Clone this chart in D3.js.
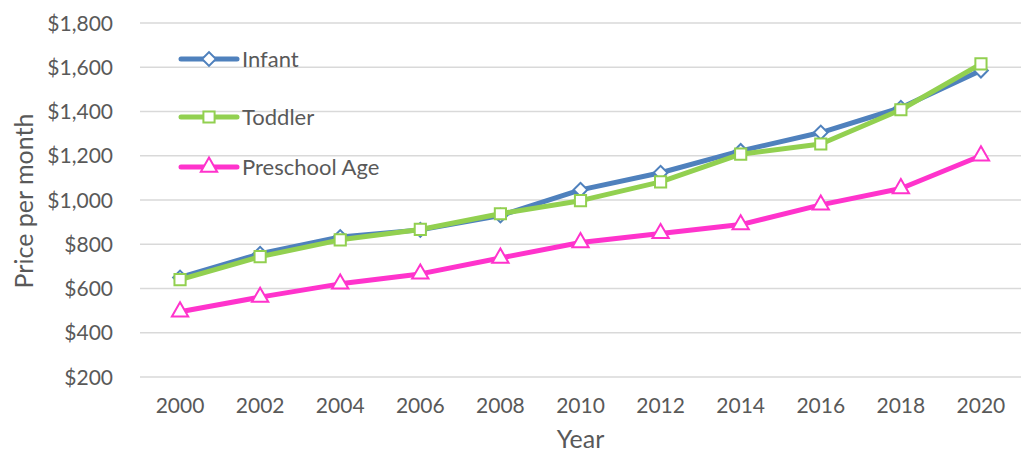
<!DOCTYPE html>
<html>
<head>
<meta charset="utf-8">
<script src="https://cdn.jsdelivr.net/npm/d3@7"></script>
<style>
	body { margin: 0; background: #fff; }
	text { font-family: Lato, "Noto Sans", sans-serif; fill: #595959; }
</style>
</head>
<body>
<script>
var width = 1029,
	height = 455;

// Data
var years = ["2000","2002","2004","2006","2008","2010","2012","2014","2016","2018","2020"];
var infant = [650, 757, 833, 865, 930, 1046, 1123, 1222, 1305, 1417, 1585];
var toddler = [640, 744, 820, 867, 938, 997, 1082, 1207, 1253, 1408, 1615];
var preschool = [495, 561, 621, 666, 738, 808, 849, 889, 978, 1052, 1200];
var yTicks = [200, 400, 600, 800, 1000, 1200, 1400, 1600, 1800];

var seriesNames = ["Infant", "Toddler", "Preschool Age"];
var seriesValues = [infant, toddler, preschool];
var seriesColors = ["#4f81bd", "#92d050", "#ff33cc"];
// diamond is drawn as a square turned 45 degrees
var seriesSymbols = [d3.symbolSquare, d3.symbolSquare, d3.symbolTriangle];
var symbolSizes = [95, 125, 115];
var symbolTurn = [45, 0, 0];

var margin = {left: 140, right: 8, top: 23, bottom: 78};

var x = d3.scaleBand()
	.domain(years)
	.range([margin.left, width - margin.right]);

var y = d3.scaleLinear()
	.domain([200, 1800])
	.range([height - margin.bottom, margin.top]);

var svg = d3.select("body").append("svg")
	.attr("width", width)
	.attr("height", height);

// Gridlines
svg.append("g")
	.selectAll("line")
	.data(yTicks)
	.enter().append("line")
		.attr("x1", margin.left)
		.attr("x2", width - margin.right)
		.attr("y1", function(d) { return y(d); })
		.attr("y2", function(d) { return y(d); })
		.attr("stroke", "#d9d9d9")
		.attr("stroke-width", 1.5);

// Y axis labels
var fmt = d3.format(",");
svg.append("g")
	.selectAll("text")
	.data(yTicks)
	.enter().append("text")
		.attr("x", 113)
		.attr("y", function(d) { return y(d) + 7.5; })
		.attr("text-anchor", "end")
		.style("font-size", "21px")
		.text(function(d) { return "$" + fmt(d); });

// X axis labels
svg.append("g")
	.selectAll("text")
	.data(years)
	.enter().append("text")
		.attr("x", function(d) { return x(d) + x.bandwidth() / 2; })
		.attr("y", 413)
		.attr("text-anchor", "middle")
		.style("font-size", "21px")
		.text(function(d) { return d; });

// Axis titles
svg.append("text")
	.attr("x", (margin.left + width - margin.right) / 2)
	.attr("y", 448)
	.attr("text-anchor", "middle")
	.style("font-size", "25px")
	.text("Year");

svg.append("text")
	.attr("transform", "translate(33,201) rotate(-90)")
	.attr("text-anchor", "middle")
	.style("font-size", "25px")
	.text("Price per month");

var line = d3.line()
	.x(function(d, i) { return x(years[i]) + x.bandwidth() / 2; })
	.y(function(d) { return y(d); });

// Series lines and markers
seriesValues.forEach(function(vals, s) {
	var g = svg.append("g");
	g.append("path")
		.datum(vals)
		.attr("d", line)
		.attr("fill", "none")
		.attr("stroke", seriesColors[s])
		.attr("stroke-width", 5)
		.attr("stroke-linejoin", "round");
	g.selectAll("path.marker")
		.data(vals)
		.enter().append("path")
			.attr("class", "marker")
			.attr("d", d3.symbol().type(seriesSymbols[s]).size(symbolSizes[s]))
			.attr("transform", function(d, i) {
				return "translate(" + (x(years[i]) + x.bandwidth() / 2) + "," + y(d) + ") rotate(" + symbolTurn[s] + ")";
			})
			.attr("fill", "#fff")
			.attr("stroke", seriesColors[s])
			.attr("stroke-width", 2);
});

// Legend
var legendY = [59, 117, 167];
var legend = svg.append("g");
seriesNames.forEach(function(name, s) {
	legend.append("line")
		.attr("x1", 181)
		.attr("x2", 237)
		.attr("y1", legendY[s])
		.attr("y2", legendY[s])
		.attr("stroke", seriesColors[s])
		.attr("stroke-width", 5)
		.attr("stroke-linecap", "round");
	legend.append("path")
		.attr("d", d3.symbol().type(seriesSymbols[s]).size(symbolSizes[s]))
		.attr("transform", "translate(209," + legendY[s] + ") rotate(" + symbolTurn[s] + ")")
		.attr("fill", "#fff")
		.attr("stroke", seriesColors[s])
		.attr("stroke-width", 2);
	legend.append("text")
		.attr("x", 242)
		.attr("y", legendY[s] + 7.5)
		.style("font-size", "22px")
		.text(name);
});
</script>
</body>
</html>
